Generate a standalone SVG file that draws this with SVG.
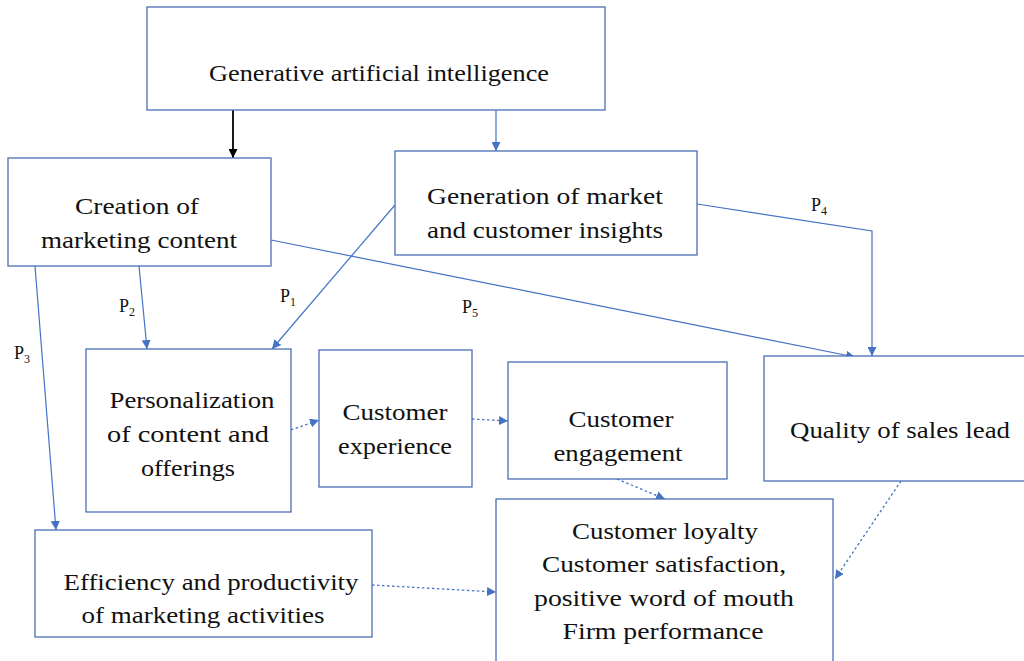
<svg xmlns="http://www.w3.org/2000/svg" width="1024" height="661" viewBox="0 0 1024 661">
  <style>
    .box { fill: #ffffff; stroke: #4a6fb5; stroke-width: 1.3; }
    .lbl { font-size: 23px; fill: #111111; text-anchor: middle; }
    .p { font-size: 18px; fill: #111111; }
    .p tspan.sub { font-size: 12px; }
    .solid { fill: none; stroke: #4472c4; stroke-width: 1.2; }
    .dot { fill: none; stroke: #4472c4; stroke-width: 1.3; stroke-dasharray: 2.5 2.5; }
    .black { fill: none; stroke: #000000; stroke-width: 1.8; }
  </style>
  <defs>
    <marker id="ah" viewBox="0 0 10 10" refX="10" refY="5" markerWidth="9" markerHeight="9" markerUnits="userSpaceOnUse" orient="auto">
      <path d="M0,0 L10,5 L0,10 z" fill="#4472c4"/>
    </marker>
    <marker id="ahk" viewBox="0 0 10 10" refX="10" refY="5" markerWidth="9" markerHeight="9" markerUnits="userSpaceOnUse" orient="auto">
      <path d="M0,0 L10,5 L0,10 z" fill="#000000"/>
    </marker>
  </defs>
  <rect width="1024" height="661" fill="#ffffff"/>

  <g id="connectors">
    <line class="black" x1="233" y1="110" x2="233" y2="158" marker-end="url(#ahk)"/>
    <line class="solid" x1="496" y1="110" x2="496" y2="151" marker-end="url(#ah)"/>
    <line class="solid" x1="139" y1="266" x2="147" y2="349" marker-end="url(#ah)"/>
    <line class="solid" x1="35" y1="266" x2="56" y2="530" marker-end="url(#ah)"/>
    <line class="solid" x1="395" y1="205" x2="272" y2="349" marker-end="url(#ah)"/>
    <line class="solid" x1="271" y1="240" x2="855" y2="357" marker-end="url(#ah)"/>
    <polyline class="solid" points="697,204 872,231 872,356" marker-end="url(#ah)"/>
    <line class="dot" x1="291" y1="430" x2="319" y2="420" marker-end="url(#ah)"/>
    <line class="dot" x1="472" y1="419" x2="508" y2="421" marker-end="url(#ah)"/>
    <line class="dot" x1="617" y1="479" x2="665" y2="499" marker-end="url(#ah)"/>
    <line class="dot" x1="372" y1="585" x2="496" y2="592" marker-end="url(#ah)"/>
    <line class="dot" x1="901" y1="481" x2="835" y2="579" marker-end="url(#ah)"/>
  </g>

  <g id="labels" font-family="'Liberation Serif', 'DejaVu Serif', serif">
    <text class="p" x="280" y="302">P<tspan class="sub" dy="4">1</tspan></text>
    <text class="p" x="119" y="312">P<tspan class="sub" dy="4">2</tspan></text>
    <text class="p" x="14" y="359">P<tspan class="sub" dy="4">3</tspan></text>
    <text class="p" x="811" y="211">P<tspan class="sub" dy="4">4</tspan></text>
    <text class="p" x="462" y="313">P<tspan class="sub" dy="4">5</tspan></text>
  </g>

  <g id="nodes" font-family="'Liberation Serif', 'DejaVu Serif', serif">
    <g id="gen-ai">
      <rect class="box" x="147" y="7" width="458" height="103"/>
      <text class="lbl" x="379" y="81" textLength="340" lengthAdjust="spacingAndGlyphs">Generative artificial intelligence</text>
    </g>
    <g id="creation">
      <rect class="box" x="8" y="158" width="263" height="108"/>
      <text class="lbl" x="137" y="214" textLength="124" lengthAdjust="spacingAndGlyphs">Creation of</text>
      <text class="lbl" x="139" y="248" textLength="196" lengthAdjust="spacingAndGlyphs">marketing content</text>
    </g>
    <g id="insights">
      <rect class="box" x="395" y="151" width="302" height="104"/>
      <text class="lbl" x="545" y="204" textLength="236" lengthAdjust="spacingAndGlyphs">Generation of market</text>
      <text class="lbl" x="545" y="238" textLength="236" lengthAdjust="spacingAndGlyphs">and customer insights</text>
    </g>
    <g id="personalization">
      <rect class="box" x="86" y="349" width="205" height="163"/>
      <text class="lbl" x="192" y="408" textLength="165" lengthAdjust="spacingAndGlyphs">Personalization</text>
      <text class="lbl" x="188" y="442" textLength="162" lengthAdjust="spacingAndGlyphs">of content and</text>
      <text class="lbl" x="188" y="476" textLength="94" lengthAdjust="spacingAndGlyphs">offerings</text>
    </g>
    <g id="experience">
      <rect class="box" x="319" y="350" width="153" height="137"/>
      <text class="lbl" x="395" y="420" textLength="105" lengthAdjust="spacingAndGlyphs">Customer</text>
      <text class="lbl" x="395" y="454" textLength="114" lengthAdjust="spacingAndGlyphs">experience</text>
    </g>
    <g id="engagement">
      <rect class="box" x="508" y="362" width="219" height="117"/>
      <text class="lbl" x="621" y="427" textLength="105" lengthAdjust="spacingAndGlyphs">Customer</text>
      <text class="lbl" x="618" y="461" textLength="129" lengthAdjust="spacingAndGlyphs">engagement</text>
    </g>
    <g id="sales-lead">
      <rect class="box" x="764" y="356" width="270" height="125"/>
      <text class="lbl" x="900" y="438" textLength="220" lengthAdjust="spacingAndGlyphs">Quality of sales lead</text>
    </g>
    <g id="outcomes">
      <rect class="box" x="496" y="499" width="337" height="170"/>
      <text class="lbl" x="665" y="539" textLength="186" lengthAdjust="spacingAndGlyphs">Customer loyalty</text>
      <text class="lbl" x="664" y="572" textLength="244" lengthAdjust="spacingAndGlyphs">Customer satisfaction,</text>
      <text class="lbl" x="664" y="606" textLength="260" lengthAdjust="spacingAndGlyphs">positive word of mouth</text>
      <text class="lbl" x="663" y="639" textLength="201" lengthAdjust="spacingAndGlyphs">Firm performance</text>
    </g>
    <g id="efficiency">
      <rect class="box" x="35" y="530" width="337" height="107"/>
      <text class="lbl" x="211" y="590" textLength="295" lengthAdjust="spacingAndGlyphs">Efficiency and productivity</text>
      <text class="lbl" x="203" y="623" textLength="243" lengthAdjust="spacingAndGlyphs">of marketing activities</text>
    </g>
  </g>
</svg>
